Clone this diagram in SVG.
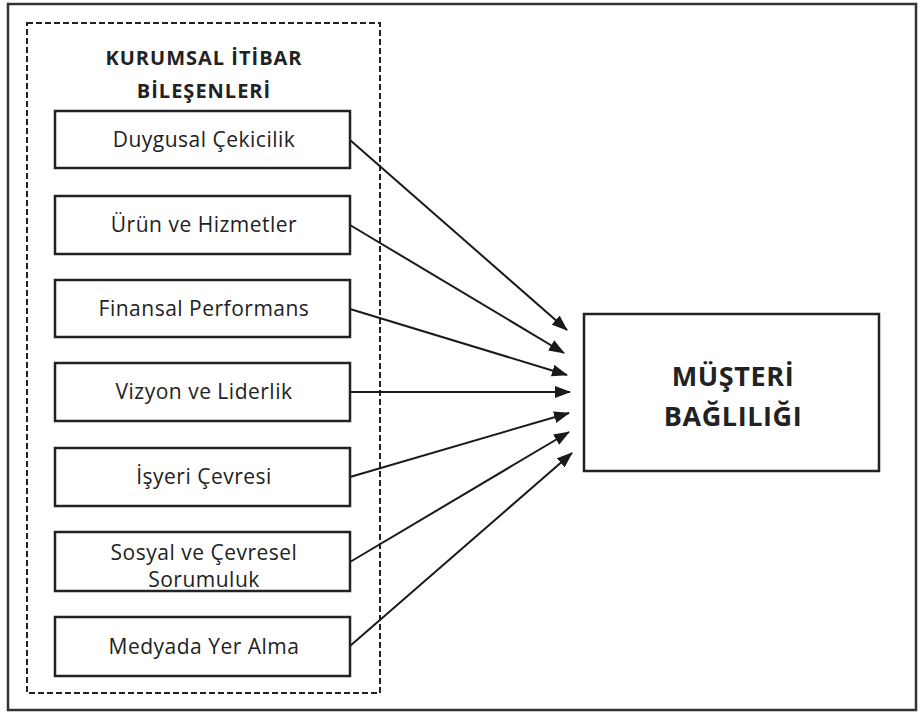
<svg xmlns="http://www.w3.org/2000/svg" width="923" height="713" viewBox="0 0 923 713">
<style>
text{font-family:"Open Sans","Liberation Sans",sans-serif;fill:#222;text-anchor:middle}
.lbl{font-size:21px;letter-spacing:0.5px}
.ttl{font-size:20px;font-weight:bold;letter-spacing:1px}
.big{font-size:27px;font-weight:bold;letter-spacing:0.6px}
.box{fill:#fff;stroke:#222;stroke-width:2.5}
.con{stroke:#1a1a1a;stroke-width:2;fill:none;marker-end:url(#ah)}
</style>
<defs>
<marker id="ah" markerWidth="16" markerHeight="12" refX="15" refY="6" orient="auto" markerUnits="userSpaceOnUse">
<path d="M0,0 L16,6 L0,12 Z" fill="#1a1a1a"/>
</marker>
</defs>
<rect x="0" y="0" width="923" height="713" fill="#fff"/>
<rect id="frame" x="8" y="4" width="908" height="706" fill="none" stroke="#333" stroke-width="2.5"/>
<g id="group">
<rect x="27" y="23" width="353" height="670" fill="none" stroke="#222" stroke-width="2" stroke-dasharray="6,3"/>
<text class="ttl" x="204" y="65">KURUMSAL İTİBAR</text>
<text class="ttl" x="204" y="98">BİLEŞENLERİ</text>
</g>
<g id="connectors">
<line class="con" x1="350" y1="140" x2="567" y2="330"/>
<line class="con" x1="350" y1="225" x2="564" y2="353"/>
<line class="con" x1="350" y1="309" x2="567" y2="375"/>
<line class="con" x1="350" y1="392" x2="570" y2="392"/>
<line class="con" x1="350" y1="477" x2="569" y2="413"/>
<line class="con" x1="350" y1="562" x2="569" y2="432"/>
<line class="con" x1="350" y1="646" x2="572" y2="453"/>
</g>
<g id="n1"><rect class="box" x="55" y="111" width="295" height="57"/><text class="lbl" x="204" y="147">Duygusal Çekicilik</text></g>
<g id="n2"><rect class="box" x="55" y="196" width="295" height="58"/><text class="lbl" x="204" y="232">Ürün ve Hizmetler</text></g>
<g id="n3"><rect class="box" x="55" y="280" width="295" height="57"/><text class="lbl" x="204" y="316">Finansal Performans</text></g>
<g id="n4"><rect class="box" x="55" y="363" width="295" height="58"/><text class="lbl" x="204" y="399">Vizyon ve Liderlik</text></g>
<g id="n5"><rect class="box" x="55" y="448" width="295" height="58"/><text class="lbl" x="204" y="484">İşyeri Çevresi</text></g>
<g id="n6"><rect class="box" x="55" y="532" width="295" height="59"/><text class="lbl" x="204" y="560">Sosyal ve Çevresel</text><text class="lbl" x="204" y="587">Sorumuluk</text></g>
<g id="n7"><rect class="box" x="55" y="617" width="295" height="59"/><text class="lbl" x="204" y="654">Medyada Yer Alma</text></g>
<g id="target"><rect class="box" x="584" y="314" width="295" height="157"/><text class="big" x="733" y="386">MÜŞTERİ</text><text class="big" x="733" y="426">BAĞLILIĞI</text></g>
</svg>
